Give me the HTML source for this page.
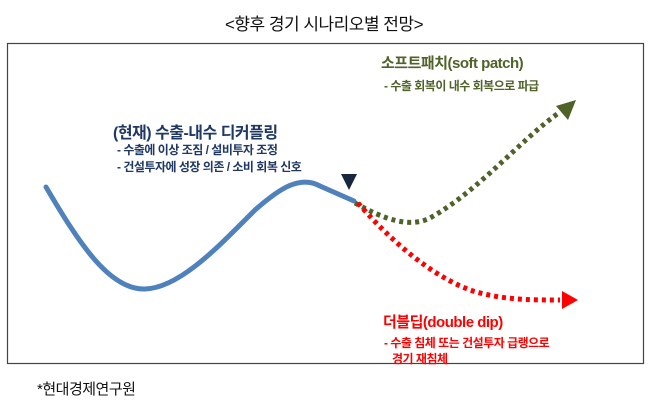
<!DOCTYPE html>
<html><head><meta charset="utf-8"><style>
body{margin:0;background:#fff;width:648px;height:409px;overflow:hidden;font-family:"Liberation Sans","Noto Sans CJK KR",sans-serif}
.t{position:absolute;white-space:nowrap;font-weight:bold;letter-spacing:-0.5px}
</style></head><body>
<div class="t" style="left:0;width:648px;text-align:center;top:10px;font-size:17px;font-weight:normal;color:#111">&lt;향후 경기 시나리오별 전망&gt;</div>
<svg width="648" height="409" style="position:absolute;left:0;top:0">
<rect x="7.5" y="43.5" width="636" height="320" fill="none" stroke="#444" stroke-width="1.2"/>
<path d="M46,187 C80,245 110,290 145,289 C180,288 220,245 255,210 C280,188 300,175 320,186 L354,201" fill="none" stroke="#4f81bd" stroke-width="5" stroke-linecap="round"/>
<path d="M355,203 C385,220 410,228 430,218 C480,190 520,140 560,112" fill="none" stroke="#4f6228" stroke-width="5" stroke-dasharray="4,4"/>
<polygon points="576,100 556,106 568,120" fill="#4f6228"/>
<path d="M358,203 C390,240 430,275 470,290 C500,300 530,300 560,300" fill="none" stroke="#ff0000" stroke-width="5" stroke-dasharray="4,4"/>
<polygon points="578,300 562,291 562,309" fill="#ff0000"/>
<polygon points="341,174 357,174 349,190" fill="#17283e"/>
</svg>
<div class="t" style="left:381px;top:52px;font-size:15px;color:#4f6228">소프트패치(soft patch)</div>
<div class="t" style="left:384px;top:77px;font-size:12px;color:#4f6228">- 수출 회복이 내수 회복으로 파급</div>
<div class="t" style="left:113px;top:119px;font-size:16px;color:#1f3864">(현재) 수출-내수 디커플링</div>
<div class="t" style="left:117px;top:141px;font-size:12px;color:#1f3864">- 수출에 이상 조짐 / 설비투자 조정</div>
<div class="t" style="left:117px;top:158px;font-size:12px;color:#1f3864">- 건설투자에 성장 의존 / 소비 회복 신호</div>
<div class="t" style="left:383px;top:311px;font-size:15px;color:#ff0000">더블딥(double dip)</div>
<div class="t" style="left:384px;top:334px;font-size:12px;color:#ff0000">- 수출 침체 또는 건설투자 급랭으로</div>
<div class="t" style="left:392px;top:350px;font-size:12px;color:#ff0000">경기 재침체</div>
<div class="t" style="left:37px;top:378px;font-size:15px;font-weight:normal;color:#111">*현대경제연구원</div>
</body></html>
